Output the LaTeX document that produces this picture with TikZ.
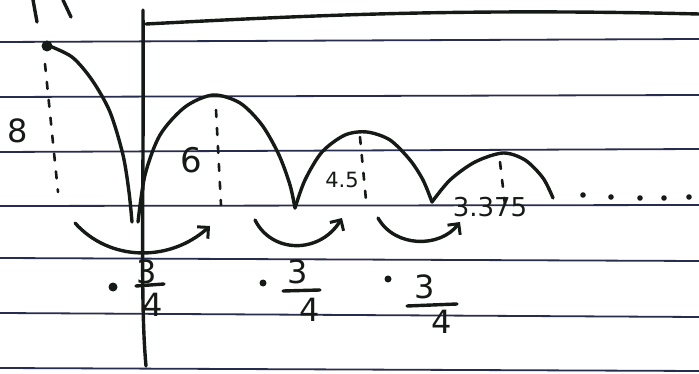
\documentclass[tikz,border=0pt]{standalone}
\usepackage{fontspec}
\setmainfont{DejaVu Sans}
\usetikzlibrary{arrows.meta}
\definecolor{ink}{RGB}{22,26,22}
\definecolor{rule}{RGB}{40,44,78}
\tikzset{
  ruled/.style={rule, line width=1.8pt},
  pen/.style={ink, line width=3.4pt, line cap=round, line join=round},
  dotline/.style={ink, line width=2.6pt, dash pattern=on 7pt off 11pt, line cap=round},
  jump/.style={pen, -{Straight Barb[length=8pt,width=16pt,line width=3pt]}},
  lbl/.style={ink, inner sep=0pt},
  digit/.style={ink, inner sep=0pt, font=\fontsize{32}{36}\selectfont}
}
\begin{document}
\begin{tikzpicture}[x=1pt,y=-1pt]
\useasboundingbox (0,0) rectangle (699,374);
\fill[white] (0,0) rectangle (699,374);
% ruled lines
\draw[ruled] (0,42) -- (699,39);
\draw[ruled] (0,97) -- (699,95);
\draw[ruled] (0,152) -- (699,149);
\draw[ruled] (0,206) -- (699,205);
\draw[ruled] (0,258) -- (699,261);
\draw[ruled] (0,313) -- (699,317);
\draw[ruled] (0,368) -- (699,371);
% top marks
\draw[pen] (33,0) -- (37,22);
\draw[pen] (63,0) -- (71,17);
% axis and top line
\coordinate (axtop) at (143,10);
\coordinate (axbot) at (146,366);
\draw[pen] (axtop) .. controls (144,200) and (140,300) .. (axbot);
\coordinate (tl0) at (146,24);
\coordinate (tl1) at (699,14);
\draw[pen] (tl0) .. controls (300,16) and (450,8) .. (tl1);
% start point
\fill[ink] (47,46) circle (5.5pt);
% falling curve
\draw[pen] plot[smooth] coordinates {(47,45) (72,57) (92,80) (110,112) (123,155) (129,192) (132,222)};
\draw[dotline] (45,64) -- (58,192);
% arches
\draw[pen] plot[smooth] coordinates {(138,222) (145,175) (160,135) (185,107) (213,95) (240,103) (262,125) (279,155) (290,185) (295,208)};
\draw[pen] plot[smooth] coordinates {(295,208) (305,180) (322,152) (345,135) (367,132) (390,140) (410,160) (423,180) (432,202)};
\draw[pen] plot[smooth] coordinates {(432,202) (450,180) (475,162) (503,153) (525,160) (543,178) (553,198)};
% dotted heights
\draw[dotline] (216,110) -- (221,205);
\draw[dotline] (360,137) -- (366,200);
\draw[dotline] (500,162) -- (505,205);
% labels
\node[lbl, font=\fontsize{32}{36}\selectfont] (h8) at (18,131) {8};
\node[lbl, font=\fontsize{34}{38}\selectfont] (h6) at (191,160) {6};
\node[lbl, font=\fontsize{21}{24}\selectfont] (h45) at (342,180) {4.5};
\node[lbl, font=\fontsize{26}{30}\selectfont] (h3375) at (490,207) {3.375};
% trailing dots
\foreach \x/\y in {583/195, 611/197, 640/198, 664/198, 689/197}
  \fill[ink] (\x,\y) circle (2.8pt);
% jump arrows
\coordinate (a1s) at (75,223); \coordinate (a1e) at (210,226);
\coordinate (a2s) at (255,220); \coordinate (a2e) at (342,218);
\coordinate (a3s) at (378,218); \coordinate (a3e) at (460,222);
\draw[jump] (a1s) .. controls (110,262) and (170,262) .. (a1e);
\draw[jump] (a2s) .. controls (272,254) and (320,254) .. (a2e);
\draw[jump] (a3s) .. controls (395,248) and (440,248) .. (a3e);
% ratio labels: dot, 3, bar, 4
\fill[ink] (113,287) circle (4.5pt);
\node[digit] (n1) at (147,272) {3};
\node[digit] (d1) at (153,305) {4};
\draw[pen] (136,286) -- (164,284);
\fill[ink] (263,283) circle (3.5pt);
\node[digit] (n2) at (298,272) {3};
\node[digit] (d2) at (310,310) {4};
\draw[pen] (283,291) -- (320,290);
\fill[ink] (388,279) circle (3.5pt);
\node[digit] (n3) at (425,287) {3};
\node[digit] (d3) at (442,322) {4};
\draw[pen] (407,306) -- (457,304);
\end{tikzpicture}
\end{document}
